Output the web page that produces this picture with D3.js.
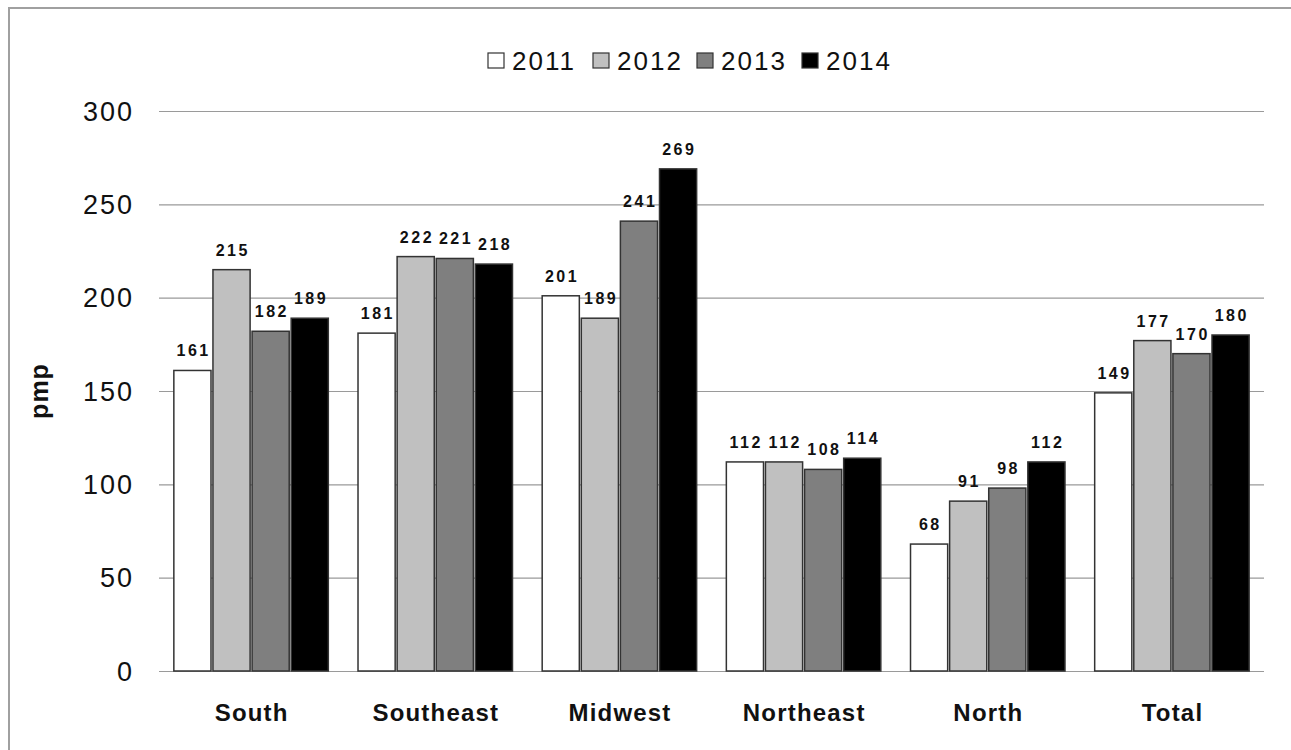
<!DOCTYPE html>
<html>
<head>
<script src="https://d3js.org/d3.v7.min.js"></script>
<style>
  body, html { margin: 0; background: #fff; font-family: 'Liberation Sans', Arial, sans-serif; }
  .grid line { stroke: #9a9a9a; stroke-width: 1.2px; }
  .grid path { display: none; }
  .label { font-size: 16px; font-weight: bold; letter-spacing: 2.5px; text-anchor: middle; fill: #111; }
</style>
</head>
<body>
<div id="chart"></div>
<script>
var regions = ["South", "Southeast", "Midwest", "Northeast", "North", "Total"];
var years = ["2011", "2012", "2013", "2014"];
var v2011 = [161, 181, 201, 112, 68, 149];
var v2012 = [215, 222, 189, 112, 91, 177];
var v2013 = [182, 221, 241, 108, 98, 170];
var v2014 = [189, 218, 269, 114, 112, 180];
var yTicks = [0, 50, 100, 150, 200, 250, 300];
var series = [v2011, v2012, v2013, v2014];
var fills = ["#ffffff", "#c0c0c0", "#7f7f7f", "#000000"];

var width = 1291, height = 750;
var plotLeft = 159, plotRight = 1264, plotTop = 111, plotBottom = 671;

var svg = d3.select("#chart").append("svg")
  .attr("width", width).attr("height", height);

// outer frame
svg.append("rect")
  .attr("x", 9).attr("y", 8).attr("width", 1300).attr("height", 760)
  .attr("fill", "none").attr("stroke", "#a0a0a0").attr("stroke-width", 2);

var x0 = d3.scaleBand().domain(regions).range([plotLeft, plotRight]).paddingInner(0.14).paddingOuter(0.07);
var x1 = d3.scaleBand().domain(years).range([0, x0.bandwidth()]).padding(0.05);
var y = d3.scaleLinear().domain([0, 300]).range([plotBottom, plotTop]);

// gridlines
svg.append("g").attr("class", "grid")
  .attr("transform", "translate(" + plotLeft + ",0)")
  .call(d3.axisRight(y).tickValues(yTicks).tickSize(plotRight - plotLeft).tickFormat(""));

// y tick labels
svg.append("g").selectAll("text")
  .data(yTicks).enter().append("text")
  .attr("x", 134).attr("y", d => y(d))
  .attr("dy", "0.36em")
  .attr("text-anchor", "end")
  .style("font-size", "27px").style("letter-spacing", "2px")
  .attr("fill", "#111")
  .text(d => d);

// y axis title
svg.append("text")
  .attr("transform", "translate(48," + y(150) + ") rotate(-90)")
  .attr("text-anchor", "middle")
  .style("font-size", "25px").style("font-weight", "bold").style("letter-spacing", "1px")
  .attr("fill", "#111")
  .text("pmp");

// bars
var groups = svg.append("g").selectAll("g")
  .data(regions).enter().append("g")
  .attr("transform", d => "translate(" + x0(d) + ",0)");

groups.selectAll("rect")
  .data((d, i) => years.map((yr, j) => ({ year: yr, value: series[j][i], fill: fills[j] })))
  .enter().append("rect")
  .attr("x", d => x1(d.year))
  .attr("y", d => y(d.value))
  .attr("width", x1.bandwidth())
  .attr("height", d => y(0) - y(d.value))
  .attr("fill", d => d.fill)
  .attr("stroke", "#333")
  .attr("stroke-width", 1.5);

groups.selectAll("text")
  .data((d, i) => years.map((yr, j) => ({ year: yr, value: series[j][i] })))
  .enter().append("text")
  .attr("class", "label")
  .attr("x", d => x1(d.year) + x1.bandwidth() / 2 + 1.25)
  .attr("y", d => y(d.value) - 14)
  .text(d => d.value);

// category labels
svg.append("g").selectAll("text")
  .data(regions).enter().append("text")
  .attr("x", d => x0(d) + x0.bandwidth() / 2 + 0.6)
  .attr("y", 721)
  .attr("text-anchor", "middle")
  .style("font-size", "24px").style("font-weight", "bold").style("letter-spacing", "1.2px")
  .attr("fill", "#111")
  .text(d => d);

// legend
var legendX = [488, 593, 697, 802];
var legend = svg.append("g").selectAll("g")
  .data(years).enter().append("g")
  .attr("transform", (d, i) => "translate(" + legendX[i] + ",53)");
legend.append("rect")
  .attr("width", 16).attr("height", 15)
  .attr("fill", (d, i) => fills[i])
  .attr("stroke", "#333").attr("stroke-width", 1.2);
legend.append("text")
  .attr("x", 24).attr("y", 8).attr("dy", "0.36em")
  .style("font-size", "26px").style("letter-spacing", "2px")
  .attr("fill", "#111")
  .text(d => d);
</script>
</body>
</html>
